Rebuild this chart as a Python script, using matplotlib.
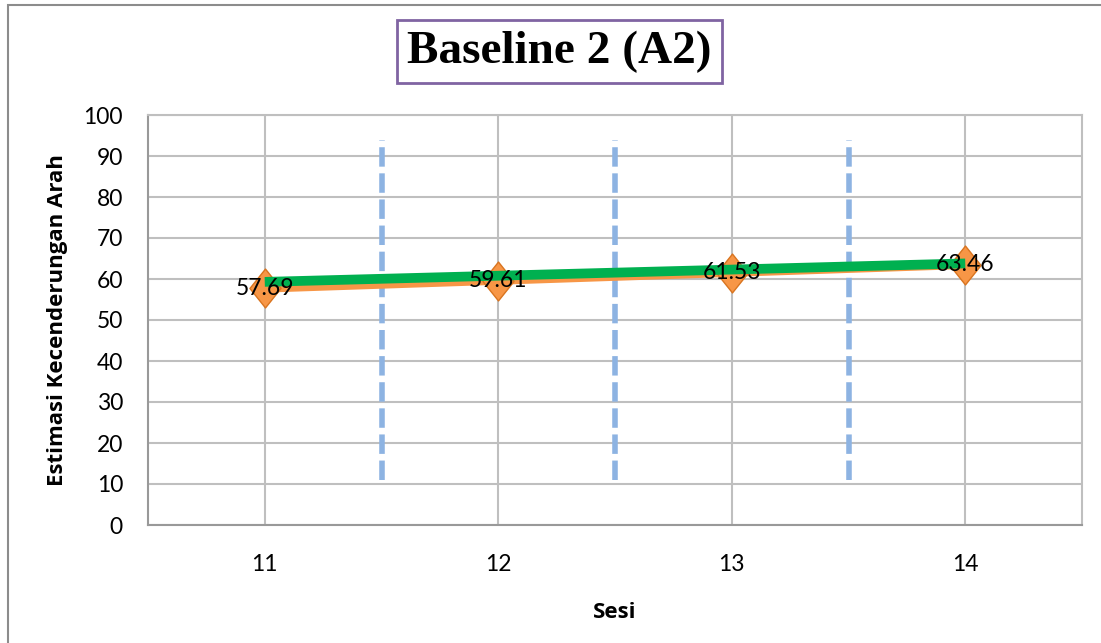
import matplotlib.pyplot as plt
from matplotlib.patches import Rectangle
from matplotlib.path import Path

# Data
sesi = [11, 12, 13, 14]
estimasi = [57.69, 59.61, 61.53, 63.46]
trend = [59.3, 60.8, 62.3, 63.8]
phase_breaks = [11.5, 12.5, 13.5]
label_text = ["57.69", "59.61", "61.53", "63.46"]

plt.rcParams['font.family'] = ['Lato', 'DejaVu Sans']

W, H = 1101, 643
fig = plt.figure(figsize=(W / 100, H / 100), dpi=100)
ax = fig.add_axes([148 / W, 1 - 525 / H, (1082 - 148) / W, (525 - 115) / H])

# outer chart border
fig.patches.append(Rectangle((8 / W, -0.1), 1.2, 1 - 5 / H + 0.1, transform=fig.transFigure,
                             fill=False, edgecolor="#8c8c8c", linewidth=1.5))

ax.set_xlim(10.5, 14.5)
ax.set_ylim(0, 100)
ax.set_xticks(sesi)
ax.set_yticks(range(0, 101, 10))
ax.grid(True, color="#bfbfbf", linewidth=1.5)
ax.set_axisbelow(True)
for s in ax.spines.values():
    s.set_color("#bfbfbf")
    s.set_linewidth(1.5)
ax.spines["bottom"].set_color("#999999")
ax.spines["left"].set_color("#999999")
ax.tick_params(length=0, labelsize=16.5)
ax.tick_params(axis="y", pad=18)
ax.tick_params(axis="x", pad=21)

for xb in phase_breaks:
    ax.plot([xb, xb], [11, 94], color="#8db3e2", linewidth=4, linestyle=(0, (3.5, 1.2)), zorder=2)

tall_diamond = Path([(0, 1), (0.8, 0), (0, -1), (-0.8, 0), (0, 1)], closed=True)
ax.plot(sesi, estimasi, color="#f79646", linewidth=6, marker=tall_diamond, markersize=28,
        markerfacecolor="#f79646", markeredgecolor="#d9741f", markeredgewidth=1, zorder=3)
ax.plot(sesi, trend, color="#00b050", linewidth=7, solid_capstyle="butt", zorder=4)

for x, y, t in zip(sesi, estimasi, label_text):
    ax.text(x, y, t, ha="center", va="center", fontsize=16.5, zorder=5)

ax.set_xlabel("Sesi", fontsize=16, fontweight="bold", family="Open Sans", va="center")
ax.xaxis.set_label_coords(0.5, (525 - 613) / 410)
ax.set_ylabel("Estimasi Kecenderungan Arah", fontsize=16, fontweight="bold", family="Open Sans",
              va="center")
ax.yaxis.set_label_coords((58 - 148) / 934, 0.5)

fig.text(559.5 / W, 1 - 51.5 / H, "Baseline 2 (A2)", ha="center", va="center",
         fontsize=34, fontweight="bold", family="Liberation Serif",
         bbox=dict(boxstyle="square,pad=0.22", facecolor="white", edgecolor="#8064a2", linewidth=2))

fig.savefig("out.png", dpi=100)
